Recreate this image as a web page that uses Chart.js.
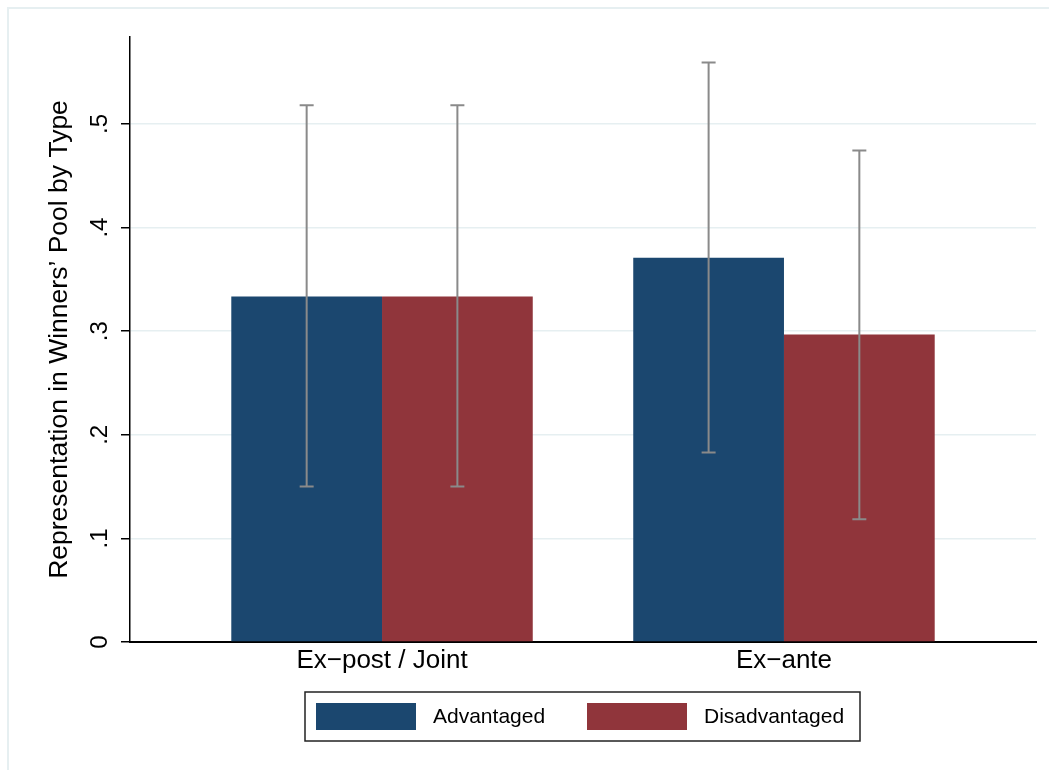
<!DOCTYPE html>
<html>
<head>
<meta charset="utf-8">
<title>Representation in Winners’ Pool by Type</title>
<script src="https://cdn.jsdelivr.net/npm/chart.js@4/dist/chart.umd.min.js"></script>
<style>
  html, body { margin: 0; padding: 0; background: #ffffff; }
  canvas { display: block; }
</style>
</head>
<body>
<canvas id="chart" width="1049" height="770"></canvas>
<script>
// Treatment groups along the x axis
const categories = ['Ex\u2212post / Joint', 'Ex\u2212ante'];
const categoryPositions = [1, 2];

// Mean share in the winners' pool, by type
const advantaged = [0.3336, 0.3710];
const disadvantaged = [0.3336, 0.2969];

// Confidence interval bounds
const advantagedLow = [0.1500, 0.1830];
const advantagedHigh = [0.5180, 0.5593];
const disadvantagedLow = [0.1500, 0.1184];
const disadvantagedHigh = [0.5180, 0.4744];

// Y axis ticks and their labels
const yTicks = [0, 0.1, 0.2, 0.3, 0.4, 0.5];
const yTickLabels = ['0', '.1', '.2', '.3', '.4', '.5'];

const seriesLabels = ['Advantaged', 'Disadvantaged'];

const FONT = '"Liberation Sans", Arial, Helvetica, sans-serif';
const NAVY = '#1b476f';
const MAROON = '#90353b';
const GRID = '#e6eff1';

function points(values) {
  return values.map((v, i) => ({ x: categoryPositions[i], y: v }));
}

// Light outer frame of the graph region
const framePlugin = {
  id: 'graphFrame',
  beforeDraw(chart) {
    const ctx = chart.ctx;
    ctx.save();
    ctx.fillStyle = '#ffffff';
    ctx.fillRect(0, 0, chart.width, chart.height);
    ctx.strokeStyle = GRID;
    ctx.lineWidth = 2;
    ctx.strokeRect(8, 8, chart.width + 20, chart.height + 20);
    ctx.restore();
  }
};

// Capped confidence-interval whiskers on every bar
const errorBarPlugin = {
  id: 'errorBars',
  afterDatasetsDraw(chart) {
    const ctx = chart.ctx;
    const yScale = chart.scales.y;
    ctx.save();
    ctx.strokeStyle = '#8a8a8a';
    ctx.lineWidth = 2;
    chart.data.datasets.forEach((ds, di) => {
      const meta = chart.getDatasetMeta(di);
      meta.data.forEach((bar, i) => {
        const x = bar.x;
        const yLo = yScale.getPixelForValue(ds.errLow[i]);
        const yHi = yScale.getPixelForValue(ds.errHigh[i]);
        const cap = 7;
        ctx.beginPath();
        ctx.moveTo(x, yLo);
        ctx.lineTo(x, yHi);
        ctx.moveTo(x - cap, yHi);
        ctx.lineTo(x + cap, yHi);
        ctx.moveTo(x - cap, yLo);
        ctx.lineTo(x + cap, yLo);
        ctx.stroke();
      });
    });
    ctx.restore();
  }
};

// Boxed legend below the plot
const boxedLegendPlugin = {
  id: 'boxedLegend',
  afterDraw(chart) {
    const ctx = chart.ctx;
    const box = { left: 305, top: 692, right: 860, bottom: 741 };
    const swatchW = 100, swatchH = 27;
    const itemStarts = [316, 587];
    ctx.save();
    ctx.strokeStyle = '#222222';
    ctx.lineWidth = 1.5;
    ctx.strokeRect(box.left, box.top, box.right - box.left, box.bottom - box.top);
    const midY = (box.top + box.bottom) / 2;
    ctx.font = '21px ' + FONT;
    ctx.textBaseline = 'middle';
    ctx.textAlign = 'left';
    chart.data.datasets.forEach((ds, i) => {
      const x0 = itemStarts[i];
      ctx.fillStyle = ds.backgroundColor;
      ctx.fillRect(x0, midY - swatchH / 2, swatchW, swatchH);
      ctx.fillStyle = '#000000';
      ctx.fillText(ds.label, x0 + swatchW + 17, midY + 1);
    });
    ctx.restore();
  }
};

new Chart(document.getElementById('chart'), {
  type: 'bar',
  data: {
    datasets: [
      {
        label: seriesLabels[0],
        data: points(advantaged),
        backgroundColor: NAVY,
        borderWidth: 0,
        errLow: advantagedLow,
        errHigh: advantagedHigh
      },
      {
        label: seriesLabels[1],
        data: points(disadvantaged),
        backgroundColor: MAROON,
        borderWidth: 0,
        errLow: disadvantagedLow,
        errHigh: disadvantagedHigh
      }
    ]
  },
  options: {
    responsive: false,
    animation: false,
    events: [],
    layout: { padding: { top: 37, right: 13, left: 0, bottom: 0 } },
    datasets: {
      bar: { categoryPercentage: 0.75, barPercentage: 1.0 }
    },
    plugins: {
      legend: { display: false },
      tooltip: { enabled: false },
      title: { display: false }
    },
    scales: {
      x: {
        type: 'linear',
        min: 0.373,
        max: 2.627,
        offset: false,
        grid: { display: false, drawTicks: false, offset: false },
        border: { display: true, color: '#000000', width: 2 },
        afterBuildTicks(scale) {
          scale.ticks = categoryPositions.map(v => ({ value: v }));
        },
        afterFit(scale) { scale.height = 128; },
        ticks: {
          padding: 3,
          color: '#000000',
          font: { family: FONT, size: 26 },
          maxRotation: 0,
          autoSkip: false,
          callback(value) {
            const idx = categoryPositions.indexOf(value);
            return idx >= 0 ? categories[idx] : '';
          }
        }
      },
      y: {
        type: 'linear',
        min: 0,
        max: 0.584,
        grid: {
          color: ctx => (ctx.tick && ctx.tick.value === 0) ? 'rgba(0,0,0,0)' : GRID,
          lineWidth: 1.5,
          drawTicks: true,
          tickLength: 9,
          tickColor: '#000000',
          tickWidth: 1.5
        },
        border: { display: true, color: '#000000', width: 1.5 },
        afterBuildTicks(scale) {
          scale.ticks = yTicks.map(v => ({ value: v }));
        },
        afterFit(scale) { scale.width = 130; },
        ticks: {
          padding: 11,
          color: '#000000',
          font: { family: FONT, size: 24 },
          minRotation: 90,
          maxRotation: 90,
          crossAlign: 'center',
          autoSkip: false,
          callback(value) {
            const idx = yTicks.findIndex(t => Math.abs(t - value) < 1e-9);
            return idx >= 0 ? yTickLabels[idx] : '';
          }
        },
        title: {
          display: true,
          text: 'Representation in Winners\u2019 Pool by Type',
          color: '#000000',
          font: { family: FONT, size: 26.5 },
          padding: { top: 44, bottom: 0 }
        }
      }
    }
  },
  plugins: [framePlugin, errorBarPlugin, boxedLegendPlugin]
});
</script>
</body>
</html>
